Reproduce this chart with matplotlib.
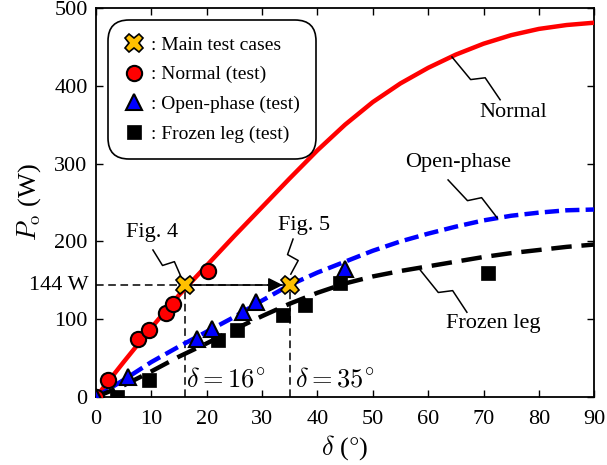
import numpy as np
import matplotlib
matplotlib.use("Agg")
import matplotlib.pyplot as plt

plt.rcParams['font.family'] = 'serif'
plt.rcParams['font.serif'] = ['Liberation Serif', 'DejaVu Serif']
plt.rcParams['mathtext.fontset'] = 'cm'
plt.rcParams['font.size'] = 16

# load angle (deg) vs output power (W), model curves
delta_curve = [0, 5, 10, 15, 20, 25, 30, 35, 40, 45, 50, 55, 60, 65, 70, 75, 80, 85, 90]
p_normal = [0, 45, 89, 131, 169, 207, 244, 281, 317, 350, 379, 403, 423, 440, 454, 465, 473, 478, 481]
p_open = [0, 22, 45, 65, 84, 103, 124, 144, 160, 174, 188, 200, 210, 219, 227, 233, 237, 240, 241]
p_frozen = [0, 15, 33, 52, 69, 87, 104, 120, 134, 146, 155, 162, 168, 174, 180, 185, 189, 193, 196]

# measured points
d_normal_test = [0, 2.2, 7.6, 9.5, 12.7, 14.0, 20.3]
p_normal_test = [0, 22, 75, 86, 108, 120, 162]
d_open_test = [0, 5.8, 18.2, 20.9, 26.6, 29.0, 45.0]
p_open_test = [0, 26, 75, 88, 109, 122, 165]
d_frozen_test = [3.8, 9.5, 22.0, 25.4, 33.8, 37.7, 44.0, 70.9]
p_frozen_test = [0, 22, 73, 86, 105, 118, 146, 160]

# main test cases (Fig. 4 and Fig. 5)
d_main = [16, 35]
p_main = [144, 144]

fig = plt.figure(figsize=(6.07, 4.65), dpi=100)
ax = fig.add_axes([0.158, 0.146, 0.821, 0.837])
ax.set_xlim(0, 90)
ax.set_ylim(0, 500)

ax.plot(delta_curve, p_normal, color='#ff0000', lw=3.2, solid_capstyle='butt',
        solid_joinstyle='round', zorder=3)
ax.plot(delta_curve, p_open, color='#0000ff', lw=3.2, dashes=(3.2, 1.4), zorder=3)
ax.plot(delta_curve, p_frozen, color='black', lw=3.2, dashes=(4.6, 2.2), zorder=3)

# guide lines at 144 W
ax.plot([0, d_main[1]], [p_main[0], p_main[1]], color='k', lw=1.1, dashes=(5, 3), zorder=2)
for d, p in zip(d_main, p_main):
    ax.plot([d, d], [0, p], color='k', lw=1.1, dashes=(5, 3), zorder=2)
ax.annotate('', xy=(d_main[1], p_main[1]), xytext=(d_main[0], p_main[0]),
            arrowprops=dict(arrowstyle='-|>', color='k', lw=1.1, mutation_scale=22,
                            shrinkA=0, shrinkB=5), zorder=4)

ax.plot(d_normal_test, p_normal_test, 'o', ms=11, mfc='#ff0000', mec='k', mew=1.5,
        ls='none', zorder=5, label=': Normal (test)')
ax.plot(d_open_test, p_open_test, '^', ms=12, mfc='#0000ff', mec='k', mew=1.5,
        ls='none', zorder=6, label=': Open-phase (test)')
ax.plot(d_frozen_test, p_frozen_test, 's', ms=10, mfc='k', mec='k', mew=0.5,
        ls='none', zorder=5, label=': Frozen leg (test)')
ax.plot(d_main, p_main, 'X', ms=13, mfc='#ffc000', mec='k', mew=1.2,
        ls='none', zorder=7, label=': Main test cases')

handles, labels = ax.get_legend_handles_labels()
order = [3, 0, 1, 2]
leg = ax.legend([handles[i] for i in order], [labels[i] for i in order],
                loc='upper left', bbox_to_anchor=(0.036, 0.955), borderaxespad=0,
                handlelength=1.0, handletextpad=0.35, labelspacing=0.62,
                borderpad=0.55, fancybox=True, framealpha=1, edgecolor='k',
                fontsize=14)
leg.get_frame().set_linewidth(1.2)
leg.get_frame().set_boxstyle('round', pad=0.3, rounding_size=1.1)


def squiggle(start, end, a=4.5, b=6.5):
    # leader line with a small lightning kink, built in pixel space
    fig.canvas.draw()
    p0 = ax.transData.transform(start)
    p1 = ax.transData.transform(end)
    d = p1 - p0
    n = np.array([-d[1], d[0]]) / np.hypot(d[0], d[1])
    pts = np.array([p0, p0 + 0.45 * d - a * n, p0 + 0.6 * d + b * n, p1])
    pts = ax.transData.inverted().transform(pts)
    ax.plot(pts[:, 0], pts[:, 1], color='k', lw=1.1, zorder=4, clip_on=False)


squiggle((64.3, 437), (73, 382))
squiggle((63.6, 279), (72.5, 230))
squiggle((58.6, 163), (67, 109))
squiggle((10.3, 189), (15.4, 154))
squiggle((35.6, 203), (35.2, 158))

ax.text(75.4, 365, 'Normal', ha='center', va='center')
ax.text(65.4, 301, 'Open-phase', ha='center', va='center')
ax.text(71.8, 95, 'Frozen leg', ha='center', va='center')
ax.text(10.1, 212, 'Fig. 4', ha='center', va='center')
ax.text(37.6, 221, 'Fig. 5', ha='center', va='center')
ax.text(16.3, 14, r'$\delta = 16^{\circ}$', ha='left', va='baseline', fontsize=19)
ax.text(35.9, 14, r'$\delta = 35^{\circ}$', ha='left', va='baseline', fontsize=19)
ax.text(-1.3, 144, '144 W', ha='right', va='center')

ax.set_xticks(range(0, 91, 10))
ax.set_yticks(range(0, 501, 100))
ax.tick_params(direction='in', top=True, right=True, length=5, width=1, labelsize=16)
ax.tick_params(axis='x', pad=9)
ax.tick_params(axis='y', pad=6)
for s in ax.spines.values():
    s.set_linewidth(1.3)
ax.set_xlabel(r'$\delta$ ($\degree$)', fontsize=19, labelpad=3)
ax.set_ylabel(r'$P_{\mathrm{o}}$ (W)', fontsize=19, labelpad=8)

fig.savefig('out.png', dpi=100)
